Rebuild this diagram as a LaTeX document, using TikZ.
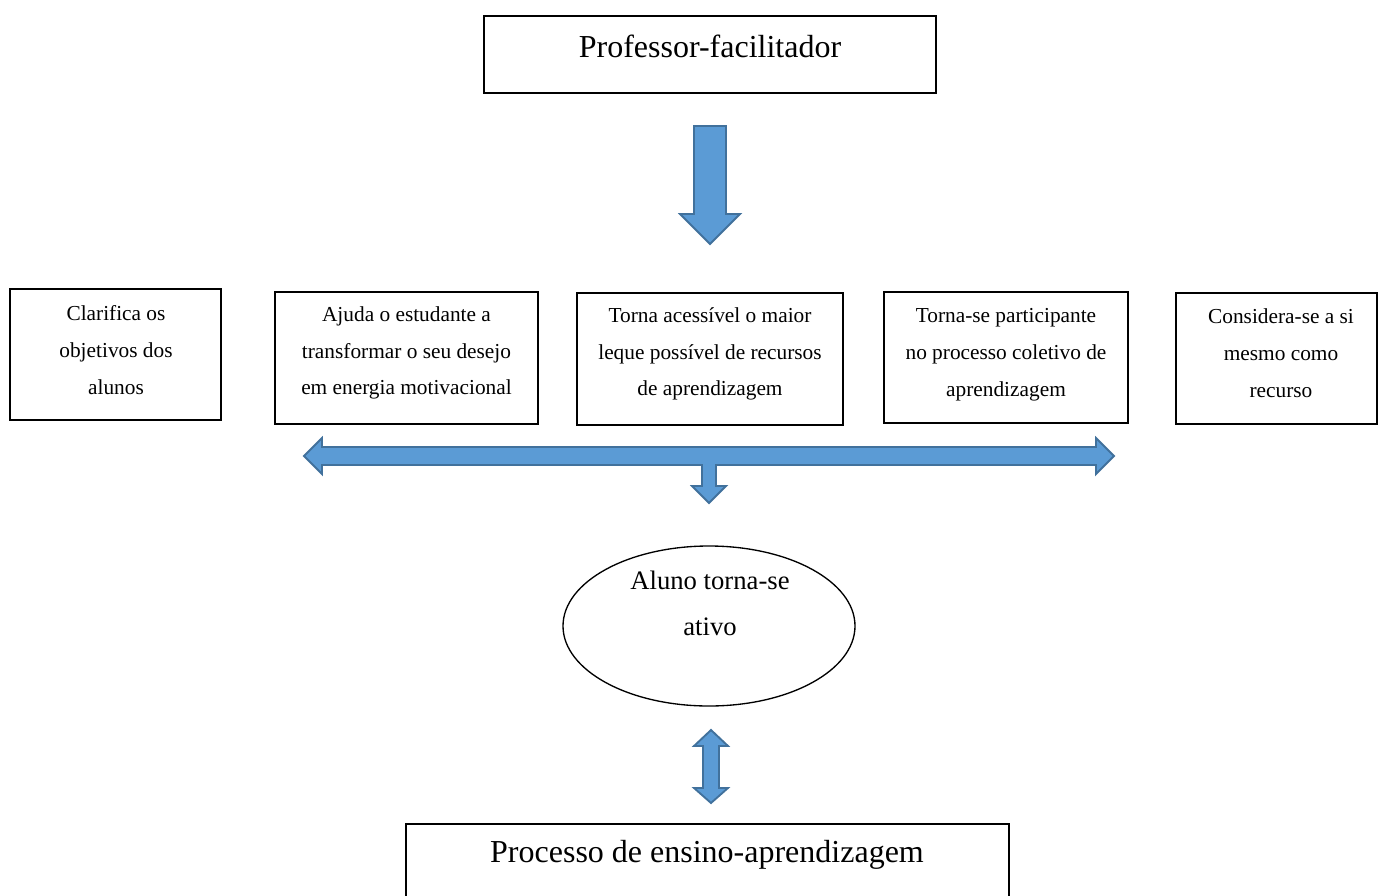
\documentclass[tikz,border=0pt]{standalone}
\usepackage{fontspec}
\setmainfont{Liberation Serif}
\usetikzlibrary{shapes.geometric}
\definecolor{arrowfill}{HTML}{5B9BD5}
\definecolor{arrowedge}{HTML}{41719C}
\begin{document}
\begin{tikzpicture}[x=0.75pt,y=-0.75pt,
  box/.style={draw=black, line width=1.3pt, inner sep=0pt, rectangle},
  oval/.style={draw=black, line width=1pt, inner sep=0pt, ellipse},
  small/.style={align=center, font=\fontsize{16}{27.6}\selectfont, inner sep=0pt},
  mid/.style={align=center, font=\fontsize{20}{34.5}\selectfont, inner sep=0pt},
  big/.style={font=\fontsize{24}{28}\selectfont, inner sep=0pt},
  fat/.style={fill=arrowfill, draw=arrowedge, line width=1.4pt, line join=miter}]
\useasboundingbox (0,0) rectangle (1378,896);
\clip (0,0) rectangle (1378,896);

% boxes
\node[box, minimum width=339pt, minimum height=57.75pt] (top) at (710,54.5) {};
\node[big] (ttop) at (710,46) {Professor-facilitador};

\node[box, minimum width=158.25pt, minimum height=98.25pt] (b1) at (115.5,354.5) {};
\node[small] (t1) at (116,350) {Clarifica os\\objetivos dos\\alunos};

\node[box, minimum width=197.25pt, minimum height=99pt] (b2) at (406.5,358) {};
\node[small] (t2) at (406.5,353) {Ajuda o estudante a\\transformar o seu desejo\\em energia motivacional};

\node[box, minimum width=199.5pt, minimum height=99pt] (b3) at (710,359) {};
\node[small] (t3) at (710,354) {Torna acessível o maior\\leque possível de recursos\\de aprendizagem};

\node[box, minimum width=183pt, minimum height=98.25pt] (b4) at (1006,357.5) {};
\node[small] (t4) at (1006,355) {Torna-se participante\\no processo coletivo de\\aprendizagem};

\node[box, minimum width=150.75pt, minimum height=98.25pt] (b5) at (1276.5,358.5) {};
\node[small] (t5) at (1281,353) {Considera-se a si\\mesmo como\\recurso};

\node[oval, minimum width=219pt, minimum height=120pt] (el) at (709,626) {};
\node[mid] (tel) at (710,603) {Aluno torna-se\\ativo};

\node[box, minimum width=452.25pt, minimum height=60pt] (bot) at (707.5,864) {};
\node[big] (tbot) at (707,855) {Processo de ensino-aprendizagem};

% fat arrows
\draw[fat] (694,126) -- (726,126) -- (726,214) -- (740,214) -- (710,244)
  -- (680,214) -- (694,214) -- cycle;

\draw[fat] (304,456) -- (322,438) -- (322,447) -- (1096,447) -- (1096,438)
  -- (1114,456) -- (1096,474) -- (1096,465) -- (716,465) -- (716,486)
  -- (726,486) -- (709,503) -- (692,486) -- (702,486) -- (702,465)
  -- (322,465) -- (322,474) -- cycle;

\draw[fat] (711,730) -- (728,746) -- (719,746) -- (719,788) -- (728,788)
  -- (711,803) -- (694,788) -- (703,788) -- (703,746) -- (694,746) -- cycle;
\end{tikzpicture}
\end{document}
